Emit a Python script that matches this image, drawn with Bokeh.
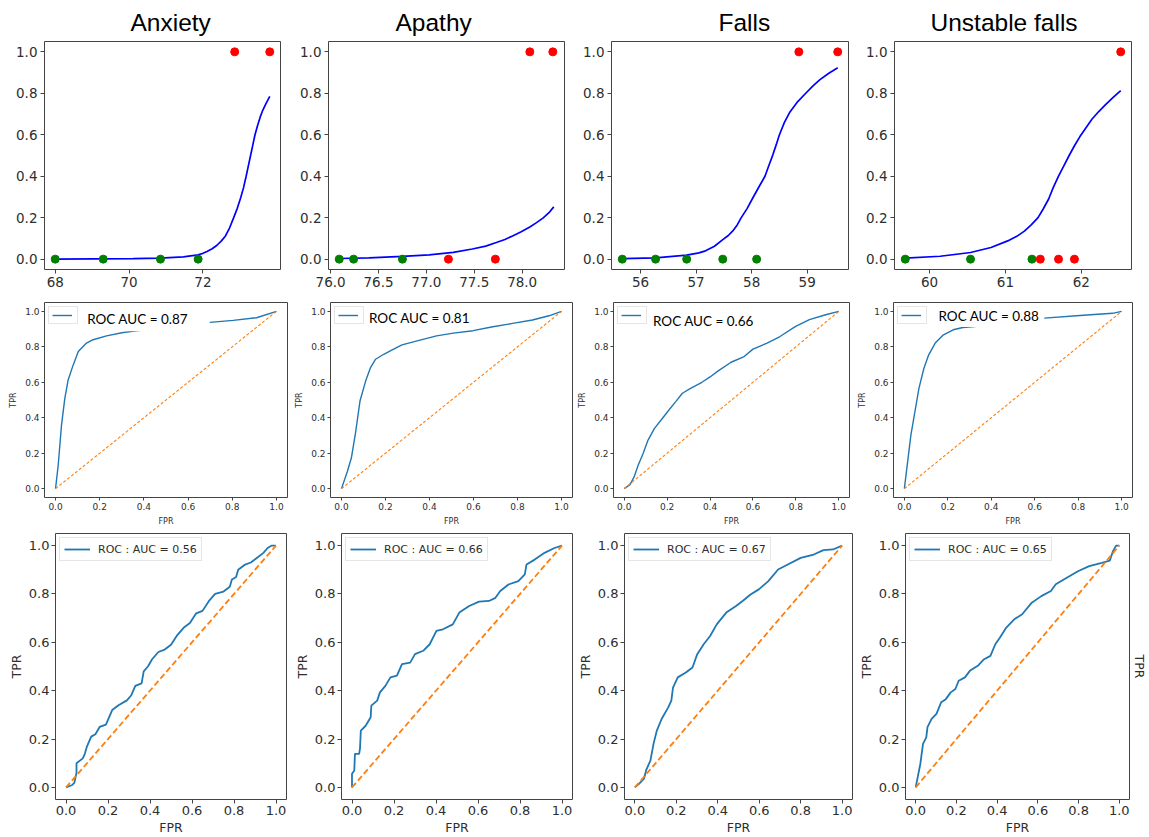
from bokeh.plotting import figure
from bokeh.layouts import column, row
from bokeh.models import (Range1d, FixedTicker, Legend, LegendItem, LinearAxis,
                          PrintfTickFormatter, BoxAnnotation, Label)
from bokeh.embed import file_html
from bokeh.resources import INLINE

# ---------------- data ----------------
titles = ["Anxiety", "Apathy", "Falls", "Unstable falls"]

# Row 1: logistic fits
green_x = [[68.0, 69.3, 70.85, 71.87],
           [76.09, 76.24, 76.75],
           [55.67, 56.27, 56.83, 57.48, 58.09],
           [59.68, 60.54, 61.35]]
green_y = [[0, 0, 0, 0], [0, 0, 0], [0, 0, 0, 0, 0], [0, 0, 0]]
red_x = [[72.86, 73.81],
         [77.23, 77.72, 78.08, 78.32],
         [58.85, 59.55],
         [61.46, 61.70, 61.91, 62.52]]
red_y = [[1, 1], [0, 0, 1, 1], [1, 1], [0, 0, 0, 1]]
curve_x = [[68.0, 70.11, 70.84, 71.47, 71.87, 72.0, 72.11, 72.25, 72.38, 72.5, 72.61, 72.72, 72.83, 72.93, 73.02, 73.10, 73.17, 73.23, 73.29, 73.35, 73.41, 73.48, 73.55, 73.62, 73.70, 73.81],
           [76.09, 76.40, 76.75, 77.03, 77.28, 77.48, 77.62, 77.73, 77.82, 77.90, 77.99, 78.08, 78.15, 78.22, 78.28, 78.33],
           [55.67, 56.27, 56.83, 57.05, 57.17, 57.33, 57.48, 57.58, 57.66, 57.74, 57.81, 57.92, 58.02, 58.13, 58.24, 58.31, 58.38, 58.44, 58.50, 58.59, 58.69, 58.83, 58.97, 59.10, 59.23, 59.39, 59.55],
           [59.68, 60.14, 60.54, 60.81, 61.03, 61.15, 61.25, 61.34, 61.43, 61.50, 61.57, 61.63, 61.70, 61.77, 61.84, 61.91, 61.98, 62.06, 62.14, 62.23, 62.32, 62.42, 62.52]]
curve_y = [[0.0, 0.002, 0.005, 0.011, 0.021, 0.028, 0.037, 0.050, 0.067, 0.088, 0.112, 0.15, 0.199, 0.245, 0.295, 0.345, 0.40, 0.45, 0.50, 0.55, 0.60, 0.645, 0.685, 0.718, 0.748, 0.785],
           [0.003, 0.006, 0.013, 0.021, 0.033, 0.049, 0.063, 0.080, 0.095, 0.112, 0.132, 0.155, 0.176, 0.199, 0.224, 0.252],
           [0.002, 0.006, 0.019, 0.030, 0.040, 0.062, 0.094, 0.114, 0.136, 0.165, 0.199, 0.245, 0.295, 0.348, 0.40, 0.452, 0.502, 0.55, 0.60, 0.66, 0.71, 0.76, 0.799, 0.835, 0.866, 0.897, 0.923],
           [0.005, 0.014, 0.032, 0.056, 0.088, 0.110, 0.135, 0.165, 0.20, 0.243, 0.29, 0.345, 0.40, 0.45, 0.50, 0.547, 0.59, 0.633, 0.675, 0.712, 0.745, 0.78, 0.813]]
top_xticks = [[68, 70, 72], [76.0, 76.5, 77.0, 77.5, 78.0], [56, 57, 58, 59], [60, 61, 62]]
top_xfmt = ["%d", "%.1f", "%d", "%d"]
unit_ticks = [0.0, 0.2, 0.4, 0.6, 0.8, 1.0]

# Row 2: ROC curves (smooth)
roc2_fpr = [[0, 0.012, 0.027, 0.042, 0.057, 0.080, 0.103, 0.140, 0.170, 0.231, 0.306, 0.367, 0.502, 0.608, 0.698, 0.804, 0.910, 1.0],
            [0, 0.027, 0.045, 0.065, 0.084, 0.110, 0.132, 0.155, 0.192, 0.237, 0.275, 0.357, 0.432, 0.508, 0.598, 0.688, 0.778, 0.868, 0.943, 1.0],
            [0, 0.027, 0.046, 0.065, 0.088, 0.111, 0.141, 0.172, 0.202, 0.240, 0.271, 0.309, 0.362, 0.400, 0.438, 0.498, 0.559, 0.600, 0.666, 0.726, 0.799, 0.863, 0.939, 1.0],
            [0, 0.030, 0.067, 0.090, 0.112, 0.142, 0.180, 0.225, 0.269, 0.322, 0.479, 0.644, 0.808, 0.958, 1.0]]
roc2_tpr = [[0, 0.132, 0.358, 0.509, 0.613, 0.698, 0.774, 0.821, 0.840, 0.862, 0.881, 0.891, 0.909, 0.925, 0.938, 0.949, 0.964, 1.0],
            [0, 0.098, 0.174, 0.325, 0.494, 0.608, 0.683, 0.730, 0.758, 0.787, 0.811, 0.838, 0.862, 0.877, 0.891, 0.913, 0.932, 0.951, 0.975, 1.0],
            [0, 0.023, 0.066, 0.132, 0.198, 0.274, 0.340, 0.387, 0.434, 0.491, 0.538, 0.566, 0.600, 0.630, 0.664, 0.713, 0.745, 0.787, 0.821, 0.858, 0.915, 0.953, 0.981, 1.0],
            [0, 0.302, 0.566, 0.679, 0.755, 0.821, 0.868, 0.896, 0.909, 0.915, 0.934, 0.962, 0.977, 0.989, 1.0]]
auc_mid = ["0.87", "0.81", "0.66", "0.88"]

# Row 3: ROC curves (stepped)
roc3_fpr = [[0.0, 0.03, 0.04, 0.05, 0.05, 0.08, 0.09, 0.10, 0.12, 0.14, 0.16, 0.19, 0.22, 0.25, 0.29, 0.31, 0.33, 0.36, 0.37, 0.39, 0.41, 0.44, 0.47, 0.50, 0.53, 0.56, 0.59, 0.62, 0.65, 0.68, 0.71, 0.75, 0.78, 0.79, 0.81, 0.82, 0.85, 0.88, 0.91, 0.94, 0.96, 0.98, 1.0],
            [0.0, 0.0, 0.011, 0.014, 0.034, 0.038, 0.042, 0.065, 0.089, 0.092, 0.12, 0.133, 0.159, 0.183, 0.214, 0.238, 0.277, 0.30, 0.339, 0.37, 0.402, 0.433, 0.48, 0.511, 0.558, 0.605, 0.652, 0.683, 0.706, 0.745, 0.792, 0.823, 0.831, 0.87, 0.917, 0.964, 1.0],
            [0.0, 0.02, 0.044, 0.055, 0.075, 0.09, 0.106, 0.129, 0.161, 0.176, 0.184, 0.207, 0.246, 0.278, 0.301, 0.332, 0.363, 0.395, 0.441, 0.488, 0.52, 0.558, 0.598, 0.644, 0.691, 0.738, 0.80, 0.863, 0.91, 0.956, 1.0],
            [0.0, 0.023, 0.036, 0.052, 0.058, 0.078, 0.102, 0.125, 0.148, 0.172, 0.195, 0.211, 0.242, 0.266, 0.305, 0.336, 0.367, 0.391, 0.414, 0.445, 0.484, 0.523, 0.57, 0.617, 0.664, 0.688, 0.742, 0.797, 0.852, 0.914, 0.953, 0.969, 0.984, 1.0]]
roc3_tpr = [[0.0, 0.01, 0.02, 0.06, 0.10, 0.12, 0.14, 0.17, 0.21, 0.22, 0.25, 0.26, 0.32, 0.34, 0.36, 0.38, 0.42, 0.43, 0.48, 0.50, 0.53, 0.56, 0.57, 0.59, 0.63, 0.66, 0.68, 0.72, 0.73, 0.77, 0.80, 0.81, 0.83, 0.86, 0.87, 0.90, 0.92, 0.93, 0.95, 0.97, 0.99, 1.0, 1.0],
            [0.0, 0.056, 0.07, 0.139, 0.139, 0.16, 0.235, 0.255, 0.29, 0.338, 0.359, 0.393, 0.42, 0.455, 0.462, 0.51, 0.516, 0.551, 0.565, 0.592, 0.647, 0.654, 0.674, 0.723, 0.75, 0.768, 0.771, 0.784, 0.812, 0.839, 0.853, 0.881, 0.922, 0.942, 0.97, 0.99, 1.0],
            [0.0, 0.015, 0.036, 0.073, 0.111, 0.18, 0.235, 0.283, 0.331, 0.359, 0.413, 0.455, 0.475, 0.496, 0.551, 0.592, 0.626, 0.674, 0.723, 0.75, 0.771, 0.798, 0.819, 0.853, 0.901, 0.922, 0.949, 0.963, 0.981, 0.984, 1.0],
            [0.0, 0.098, 0.18, 0.207, 0.249, 0.283, 0.304, 0.352, 0.365, 0.393, 0.407, 0.441, 0.455, 0.482, 0.503, 0.53, 0.544, 0.592, 0.62, 0.661, 0.695, 0.716, 0.764, 0.791, 0.812, 0.84, 0.867, 0.894, 0.915, 0.929, 0.938, 0.977, 1.0, 1.0]]
auc_bot = ["0.56", "0.66", "0.67", "0.65"]

chance_x = [0.0, 1.0]
chance_y = [0.0, 1.0]

# ---------------- styling helpers ----------------
AXC = "#444444"
TXC = "#2e2e2e"
FONT = "DejaVu Sans"
BLUE = "#1f77b4"
ORANGE = "#ff7f0e"


def style(p, tick_size, tick_out, standoff, label_size=None, label_standoff=0):
    p.grid.visible = False
    p.outline_line_color = AXC
    p.outline_line_width = 1
    p.background_fill_color = "white"
    p.border_fill_color = "white"
    for ax in p.axis:
        ax.axis_line_color = None
        ax.major_tick_line_color = AXC
        ax.major_tick_out = tick_out
        ax.major_tick_in = 0
        ax.minor_tick_line_color = None
        ax.major_label_text_font = FONT
        ax.major_label_text_font_size = tick_size
        ax.major_label_text_color = TXC
        ax.major_label_standoff = standoff
        if label_size:
            ax.axis_label_text_font = FONT
            ax.axis_label_text_font_size = label_size
            ax.axis_label_text_font_style = "normal"
            ax.axis_label_text_color = TXC
            ax.axis_label_standoff = label_standoff


def mk(bl, br, fl, fr, h, top, bottom, xr, yr, title=None):
    kw = dict(width=br - bl, height=h, min_border_left=fl - bl, min_border_right=br - fr,
              min_border_top=top, min_border_bottom=bottom, x_range=xr, y_range=yr,
              output_backend="svg", toolbar_location=None)
    if title is not None:
        kw["title"] = title
    return figure(**kw)


def unit_axes(p):
    p.xaxis.ticker = FixedTicker(ticks=unit_ticks)
    p.yaxis.ticker = FixedTicker(ticks=unit_ticks)
    p.xaxis.formatter = PrintfTickFormatter(format="%.1f")
    p.yaxis.formatter = PrintfTickFormatter(format="%.1f")


# ---------------- row 1 ----------------
r1_bounds = [0, 292, 572, 858, 1149]
r1_frames = [(44, 280), (328, 564), (611, 848), (894, 1131)]
title_left = [130, 395, 718, 930]
row1 = []
for i in range(4):
    xs = green_x[i] + red_x[i] + curve_x[i]
    lo, hi = min(xs), max(xs)
    pad = 0.05 * (hi - lo)
    p = mk(r1_bounds[i], r1_bounds[i + 1], r1_frames[i][0], r1_frames[i][1], 300, 40, 31,
           Range1d(lo - pad, hi + pad), Range1d(-0.05, 1.05), title=titles[i])
    p.title.text_font = "Liberation Sans"
    p.title.text_font_size = "24.5px"
    p.title.text_font_style = "normal"
    p.title.text_color = "black"
    p.title.align = "left"
    p.title.offset = title_left[i] - r1_frames[i][0]
    p.title.standoff = 12
    p.line(curve_x[i], curve_y[i], line_color="#0000ff", line_width=1.7)
    p.scatter(green_x[i], green_y[i], size=8, fill_color="#008000", line_color="#008000")
    p.scatter(red_x[i], red_y[i], size=8, fill_color="#ff0000", line_color="#ff0000")
    p.xaxis.ticker = FixedTicker(ticks=top_xticks[i])
    p.xaxis.formatter = PrintfTickFormatter(format=top_xfmt[i])
    p.yaxis.ticker = FixedTicker(ticks=unit_ticks)
    p.yaxis.formatter = PrintfTickFormatter(format="%.1f")
    style(p, "13.5px", 4, 3)
    row1.append(p)

# ---------------- row 2 ----------------
r2_bounds = [0, 292, 575, 855, 1149]
r2_frames = [(44, 287), (328, 572), (606, 849), (888, 1132)]
box_l = [0.11, 0.11, 0.11, 0.12]
box_r = [0.698, 0.62, 0.60, 0.644]
box_b = [0.888, 0.905, 0.90, 0.912]
txt_x = [0.143, 0.125, 0.134, 0.157]
txt_y = [0.958, 0.962, 0.947, 0.975]
row2 = []
for i in range(4):
    p = mk(r2_bounds[i], r2_bounds[i + 1], r2_frames[i][0], r2_frames[i][1], 230, 2, 33,
           Range1d(-0.05, 1.05), Range1d(-0.05, 1.05))
    rl = p.line(roc2_fpr[i], roc2_tpr[i], line_color=BLUE, line_width=1.4)
    p.line(chance_x, chance_y, line_color=ORANGE, line_width=1.1, line_dash="3 2")
    unit_axes(p)
    p.xaxis.axis_label = "FPR"
    p.yaxis.axis_label = "TPR"
    style(p, "9px", 3, 2, label_size="8px", label_standoff=4)
    p.add_layout(BoxAnnotation(left=box_l[i], right=box_r[i], bottom=box_b[i], top=1.04,
                               fill_color="white", fill_alpha=1.0, line_color=None,
                               line_alpha=0, level="overlay"))
    p.add_layout(Label(x=txt_x[i], y=txt_y[i], text="ROC AUC = " + auc_mid[i],
                       text_font="Lato", text_font_size="13.5px", text_baseline="middle",
                       text_align="left", text_color="black", level="overlay"))
    leg = Legend(items=[LegendItem(label=" ", renderers=[rl])], location="top_left",
                 margin=4, padding=3, spacing=0, glyph_width=20, glyph_height=10,
                 label_height=10, label_width=0, label_standoff=2,
                 label_text_font_size="6px", border_line_color="#cccccc",
                 background_fill_alpha=1)
    p.add_layout(leg)
    row2.append(p)

# ---------------- row 3 ----------------
r3_bounds = [0, 291, 574, 855, 1149]
r3_frames = [(55, 286), (336, 572), (617, 852), (898, 1133)]
row3 = []
for i in range(4):
    p = mk(r3_bounds[i], r3_bounds[i + 1], r3_frames[i][0], r3_frames[i][1], 307, 3, 38,
           Range1d(-0.05, 1.05), Range1d(-0.05, 1.05))
    rl = p.line(roc3_fpr[i], roc3_tpr[i], line_color=BLUE, line_width=1.8)
    p.line(chance_x, chance_y, line_color=ORANGE, line_width=1.8, line_dash="6 3")
    unit_axes(p)
    p.xaxis.axis_label = "FPR"
    p.yaxis.axis_label = "TPR"
    style(p, "13px", 4, 2, label_size="12.5px", label_standoff=2)
    leg = Legend(items=[LegendItem(label="ROC : AUC = " + auc_bot[i], renderers=[rl])],
                 location="top_left", margin=4, padding=4, spacing=0, glyph_width=26,
                 glyph_height=14, label_height=14, label_standoff=8,
                 label_text_font=FONT, label_text_font_size="11px", label_text_color=TXC,
                 border_line_color="#cccccc", background_fill_alpha=1)
    p.add_layout(leg)
    if i == 3:
        rax = LinearAxis(ticker=FixedTicker(ticks=[]), axis_label="TPR",
                         axis_line_color=None, major_tick_out=0, major_tick_in=0,
                         minor_tick_out=0, minor_tick_in=0, axis_label_standoff=2,
                         axis_label_text_font=FONT, axis_label_text_font_size="12.5px",
                         axis_label_text_font_style="normal", axis_label_text_color=TXC)
        p.add_layout(rax, "right")
    row3.append(p)

layout = column(row(*row1, spacing=0), row(*row2, spacing=0), row(*row3, spacing=0), spacing=0)

open("out.html", "w").write(file_html(layout, INLINE))
